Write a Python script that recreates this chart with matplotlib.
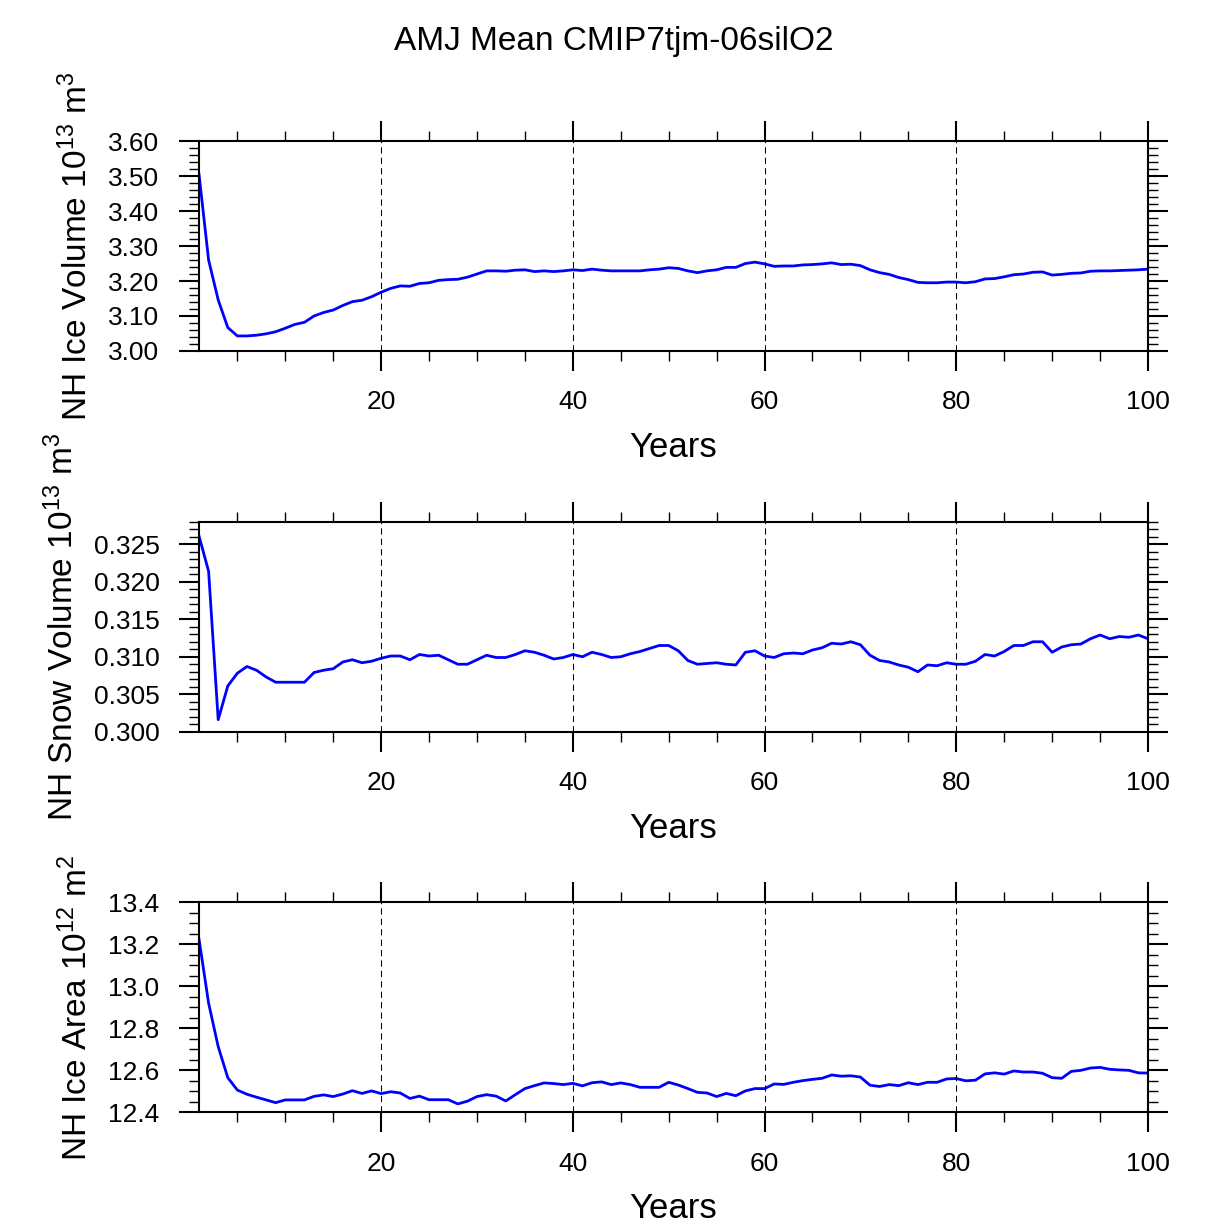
import numpy as np
import matplotlib
matplotlib.use("Agg")
import matplotlib.pyplot as plt
from matplotlib.ticker import MultipleLocator, FormatStrFormatter

plt.rcParams['font.family'] = ['Liberation Sans', 'DejaVu Sans']
plt.rcParams['mathtext.default'] = 'regular'

title = "AMJ Mean CMIP7tjm-06silO2"
years = np.arange(1, 101)

ice_vol = [3.505, 3.260, 3.146, 3.067, 3.043, 3.043, 3.045, 3.049, 3.055, 3.065,
           3.076, 3.082, 3.100, 3.110, 3.117, 3.130, 3.141, 3.145, 3.155, 3.168,
           3.179, 3.186, 3.185, 3.193, 3.195, 3.202, 3.204, 3.205, 3.211, 3.220,
           3.229, 3.229, 3.228, 3.231, 3.232, 3.227, 3.229, 3.227, 3.229, 3.232,
           3.230, 3.234, 3.231, 3.229, 3.229, 3.229, 3.229, 3.232, 3.234, 3.238,
           3.236, 3.229, 3.224, 3.229, 3.232, 3.239, 3.239, 3.250, 3.254, 3.249,
           3.242, 3.243, 3.243, 3.246, 3.247, 3.249, 3.252, 3.247, 3.248, 3.244,
           3.232, 3.224, 3.219, 3.210, 3.204, 3.196, 3.195, 3.195, 3.197, 3.197,
           3.195, 3.198, 3.206, 3.207, 3.212, 3.218, 3.220, 3.225, 3.226, 3.217,
           3.219, 3.222, 3.223, 3.228, 3.229, 3.229, 3.230, 3.231, 3.232, 3.234]

snow_vol = [0.3261, 0.3214, 0.3016, 0.3061, 0.3078, 0.3087, 0.3082, 0.3073, 0.3066, 0.3066,
            0.3066, 0.3066, 0.3079, 0.3082, 0.3084, 0.3093, 0.3096, 0.3092, 0.3094, 0.3098,
            0.3101, 0.3101, 0.3096, 0.3103, 0.3101, 0.3102, 0.3096, 0.3090, 0.3090, 0.3096,
            0.3102, 0.3099, 0.3099, 0.3103, 0.3108, 0.3106, 0.3102, 0.3097, 0.3099, 0.3103,
            0.3100, 0.3106, 0.3103, 0.3099, 0.3100, 0.3104, 0.3107, 0.3111, 0.3115, 0.3115,
            0.3108, 0.3095, 0.3090, 0.3091, 0.3092, 0.3090, 0.3089, 0.3106, 0.3108, 0.3101,
            0.3099, 0.3104, 0.3105, 0.3104, 0.3109, 0.3112, 0.3118, 0.3117, 0.3120, 0.3116,
            0.3102, 0.3095, 0.3093, 0.3089, 0.3086, 0.3080, 0.3089, 0.3088, 0.3092, 0.3090,
            0.3090, 0.3094, 0.3103, 0.3101, 0.3107, 0.3115, 0.3115, 0.3120, 0.3120, 0.3106,
            0.3113, 0.3116, 0.3117, 0.3124, 0.3129, 0.3124, 0.3127, 0.3126, 0.3129, 0.3124]

ice_area = [13.225, 12.920, 12.713, 12.565, 12.506, 12.486, 12.472, 12.459, 12.446, 12.459,
            12.459, 12.459, 12.476, 12.483, 12.475, 12.487, 12.503, 12.490, 12.502, 12.489,
            12.498, 12.492, 12.466, 12.477, 12.460, 12.460, 12.460, 12.440, 12.453, 12.475,
            12.484, 12.477, 12.454, 12.484, 12.513, 12.527, 12.540, 12.537, 12.532, 12.538,
            12.526, 12.541, 12.545, 12.532, 12.540, 12.532, 12.519, 12.519, 12.519, 12.543,
            12.530, 12.513, 12.495, 12.492, 12.475, 12.490, 12.479, 12.502, 12.513, 12.513,
            12.535, 12.533, 12.543, 12.551, 12.557, 12.562, 12.578, 12.572, 12.574, 12.568,
            12.529, 12.523, 12.532, 12.527, 12.541, 12.532, 12.543, 12.543, 12.559, 12.561,
            12.550, 12.553, 12.583, 12.588, 12.582, 12.597, 12.592, 12.592, 12.586, 12.565,
            12.562, 12.595, 12.600, 12.611, 12.614, 12.605, 12.602, 12.600, 12.588, 12.587]

# (data, label, ylim, major, minor, fmt)
panels = [
    (ice_vol, r"NH Ice Volume 10$^{13}$ m$^3$", (3.0, 3.6), 0.1, 0.02, "%.2f"),
    (snow_vol, r"NH Snow Volume 10$^{13}$ m$^3$", (0.300, 0.328), 0.005, 0.001, "%.3f"),
    (ice_area, r"NH Ice Area 10$^{12}$ m$^2$", (12.4, 13.4), 0.2, 0.05, "%.1f"),
]
bottoms = [0.7135, 0.4027, 0.0920]

fig = plt.figure(figsize=(12.27, 12.25), dpi=100)
fig.text(0.5, 0.966, title, ha='center', va='center', fontsize=24)

for (vals, lab, ylim, maj, mnr, fmt), b in zip(panels, bottoms):
    ax = fig.add_axes([0.1622, b, 0.7734, 0.1713])
    ax.plot(years, vals, color='#0000ff', lw=2.0)
    ax.set_xlim(1, 100)
    ax.set_ylim(*ylim)
    ax.xaxis.set_major_locator(MultipleLocator(20))
    ax.xaxis.set_minor_locator(MultipleLocator(5))
    ax.yaxis.set_major_locator(MultipleLocator(maj))
    ax.yaxis.set_minor_locator(MultipleLocator(mnr))
    ax.yaxis.set_major_formatter(FormatStrFormatter(fmt))
    for x in [20, 40, 60, 80]:
        ax.axvline(x, color='black', lw=0.75, ls=(0, (6, 4)))
    ax.tick_params(which='both', direction='out', top=True, right=True,
                   labeltop=False, labelright=False, labelsize=19)
    ax.tick_params(which='major', length=14.4, width=1.5, pad=14)
    ax.tick_params(which='minor', length=7.2, width=1.0)
    for sp in ax.spines.values():
        sp.set_linewidth(1.5)
    ax.set_xlabel("Years", fontsize=25, labelpad=12)
    ax.set_ylabel(lab, fontsize=24, labelpad=10)

fig.savefig("out.png", dpi=100)
